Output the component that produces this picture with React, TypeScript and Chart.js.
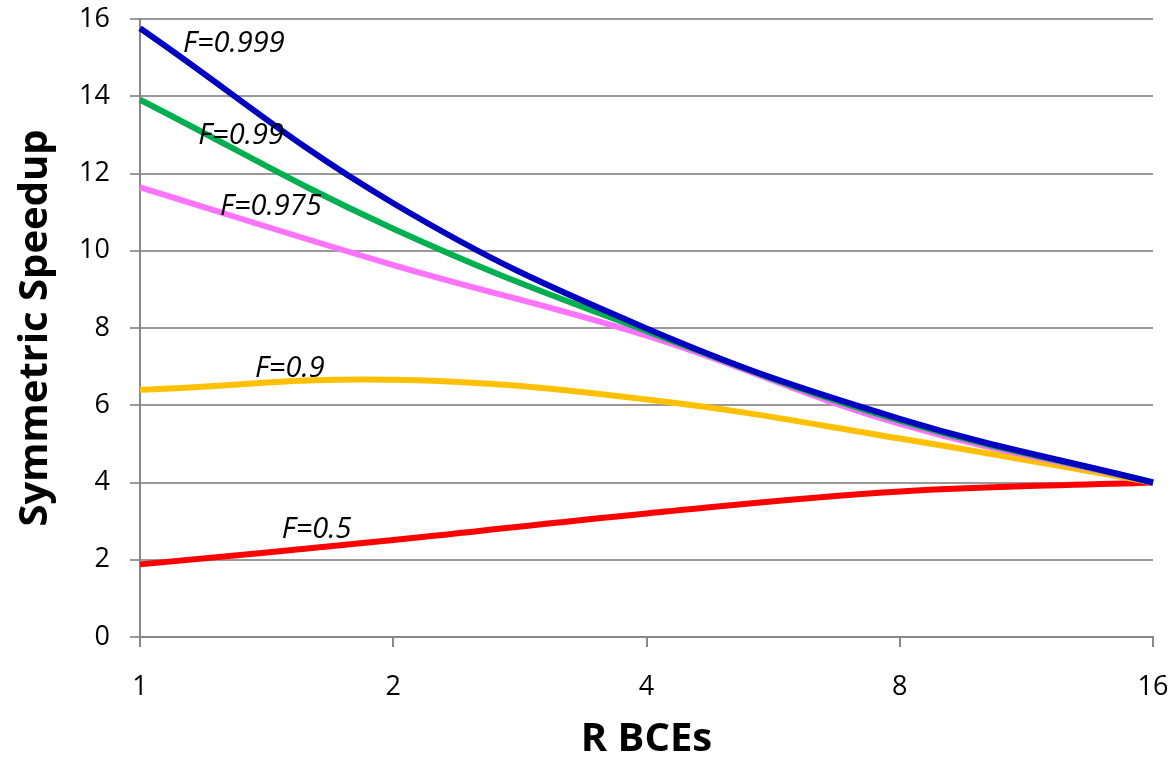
import React, { useEffect, useRef } from "react";
import { Chart, registerables } from "chart.js";

Chart.register(...registerables);

// Number of big cores (R BCEs) per configuration
const rLabels = ["1", "2", "4", "8", "16"];

// Symmetric speedup for each parallel fraction F
const f0999 = [15.76, 11.23, 7.99, 5.65, 4.0];
const f099 = [13.91, 10.57, 7.92, 5.6, 4.0];
const f0975 = [11.64, 9.63, 7.8, 5.52, 4.0];
const f09 = [6.4, 6.66, 6.15, 5.14, 4.0];
const f05 = [1.88, 2.51, 3.2, 3.77, 4.0];

const seriesNames = ["F=0.999", "F=0.99", "F=0.975", "F=0.9", "F=0.5"];
const seriesColors = ["#0000C0", "#00B050", "#FF73FF", "#FFC000", "#FF0000"];

// Where each curve's name sits (x as category position, y in speedup units)
const labelX = [0.17, 0.23, 0.316, 0.454, 0.56];
const labelY = [15.35, 12.97, 11.13, 6.94, 2.77];

const FONT = "'Open Sans', 'Liberation Sans', sans-serif";

const curveLabels = {
  id: "curveLabels",
  afterDatasetsDraw(chart: any) {
    const { ctx, scales } = chart;
    ctx.save();
    ctx.fillStyle = "#000";
    ctx.font = `italic 29px ${FONT}`;
    ctx.textAlign = "left";
    ctx.textBaseline = "middle";
    seriesNames.forEach((name, i) => {
      ctx.fillText(name, scales.x.getPixelForValue(labelX[i]), scales.y.getPixelForValue(labelY[i]));
    });
    ctx.restore();
  },
};

const axisTitles = {
  id: "axisTitles",
  afterDraw(chart: any) {
    const { ctx, chartArea } = chart;
    ctx.save();
    ctx.fillStyle = "#000";
    ctx.font = `bold 40px ${FONT}`;
    ctx.textAlign = "center";
    ctx.textBaseline = "middle";
    ctx.fillText("R BCEs", (chartArea.left + chartArea.right) / 2, 740);
    ctx.translate(36, (chartArea.top + chartArea.bottom) / 2);
    ctx.rotate(-Math.PI / 2);
    ctx.fillText("Symmetric Speedup", 0, 0);
    ctx.restore();
  },
};

export default function App() {
  const ref = useRef<HTMLCanvasElement>(null);

  useEffect(() => {
    if (!ref.current) return;
    const data = [f0999, f099, f0975, f09, f05];
    const chart = new Chart(ref.current, {
      type: "line",
      data: {
        labels: rLabels,
        datasets: data.map((d, i) => ({
          label: seriesNames[i],
          data: d,
          borderColor: seriesColors[i],
          backgroundColor: seriesColors[i],
          borderWidth: 6,
          pointRadius: 0,
          tension: 0.4,
          fill: false,
          order: i,
        })),
      },
      options: {
        animation: false,
        responsive: false,
        layout: { padding: 0 },
        plugins: { legend: { display: false }, tooltip: { enabled: false } },
        scales: {
          x: {
            type: "category",
            offset: false,
            afterFit(scale: any) {
              scale.height = 759 - 637;
              scale.paddingLeft = 0;
              scale.paddingRight = 19;
            },
            grid: {
              drawOnChartArea: false,
              drawTicks: true,
              tickLength: 10,
              color: "#888888",
              lineWidth: 2,
            },
            border: { color: "#888888", width: 2 },
            ticks: {
              color: "#000",
              font: { family: FONT, size: 27 },
              padding: 24,
              maxRotation: 0,
            },
          },
          y: {
            min: 0,
            max: 16,
            afterFit(scale: any) {
              scale.width = 140;
              scale.paddingTop = 19;
              scale.paddingBottom = 0;
            },
            grid: {
              color: "#999999",
              lineWidth: 2,
              tickLength: 10,
            },
            border: { color: "#888888", width: 2 },
            ticks: {
              stepSize: 2,
              color: "#000",
              font: { family: FONT, size: 27 },
              padding: 20,
            },
          },
        },
      },
      plugins: [curveLabels, axisTitles],
    });
    return () => chart.destroy();
  }, []);

  return (
    <div style={{ position: "fixed", left: 0, top: 0, width: 1172, height: 759, background: "#fff" }}>
      <canvas ref={ref} width={1172} height={759} />
    </div>
  );
}
